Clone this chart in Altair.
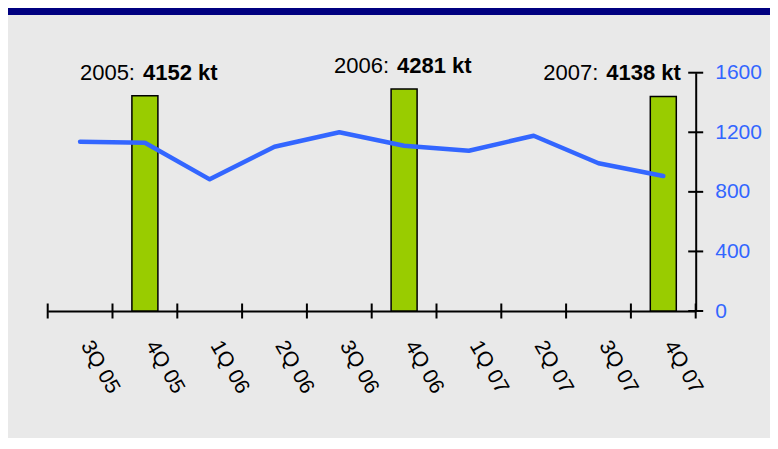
import altair as alt
import pandas as pd

# ---------------- data ----------------
quarters = ["3Q 05", "4Q 05", "1Q 06", "2Q 06", "3Q 06", "4Q 06", "1Q 07", "2Q 07", "3Q 07", "4Q 07"]
line_values = [1137, 1130, 884, 1103, 1200, 1110, 1076, 1177, 992, 906]
bar_quarters = ["4Q 05", "4Q 06", "4Q 07"]
bar_values = [1445, 1490, 1441]
annual_years = ["2005:", "2006:", "2007:"]
annual_totals = ["4152 kt", "4281 kt", "4138 kt"]
y_ticks = [0, 400, 800, 1200, 1600]

# ---------------- layout (not data) ----------------
label_shift = [-0.153, -0.233, -1.003]   # annotation anchor shift, in band units
PLOT_W, PLOT_H = 648, 238.3
PAD = {"left": 39.7, "top": 64.7, "right": 74.3, "bottom": 127}
TOTAL_W = PAD["left"] + PLOT_W + PAD["right"]
FONT = "Liberation Sans"
BLUE = "#3366ff"
GREEN = "#99cc00"
NAVY = "#000080"
BG = "#e9e9e9"

# ---------------- tables ----------------
line_df = pd.DataFrame({"pos": [i + 0.5 for i in range(len(quarters))], "value": line_values})
bar_pos = [quarters.index(q) + 0.5 for q in bar_quarters]
bar_df = pd.DataFrame({"pos": bar_pos, "value": bar_values})
ann_df = pd.DataFrame({
    "pos": [p + s for p, s in zip(bar_pos, label_shift)],
    "value": bar_values,
    "year": annual_years,
    "total": annual_totals,
})
xtick_df = pd.DataFrame({"pos": list(range(len(quarters) + 1)), "value": [0] * (len(quarters) + 1)})
ytick_df = pd.DataFrame({"pos": [len(quarters)] * len(y_ticks), "value": y_ticks})

label_expr = "[" + ",".join("'" + q + "'" for q in quarters) + "][floor(datum.value)]"

x_scale = alt.Scale(domain=[0, len(quarters)], nice=False, zero=False, padding=0)
y_scale = alt.Scale(domain=[0, 1600], nice=False, padding=0)

x_axis = alt.Axis(
    values=[i + 0.5 for i in range(len(quarters))],
    labelExpr=label_expr,
    labelAngle=60,
    labelAlign="left",
    labelBaseline="middle",
    labelPadding=31,
    labelOffset=5,
    labelFont=FONT,
    labelFontSize=21,
    labelColor="black",
    labelFlush=False,
    labelOverlap=False,
    ticks=False,
    tickSize=0,
    grid=False,
    domainColor="black",
    domainWidth=2,
    title=None,
)
y_axis = alt.Axis(
    orient="right",
    values=y_ticks,
    format="d",
    labelPadding=19,
    labelFont=FONT,
    labelFontSize=21,
    labelColor=BLUE,
    labelFlush=False,
    labelOverlap=False,
    ticks=False,
    tickSize=0,
    grid=False,
    domainColor="black",
    domainWidth=2,
    title=None,
)

X = alt.X("pos:Q", scale=x_scale, axis=x_axis)
Y = alt.Y("value:Q", scale=y_scale, axis=y_axis)

bars = alt.Chart(bar_df).mark_bar(size=26, color=GREEN, stroke="black", strokeWidth=1.5).encode(x=X, y=Y)
line = alt.Chart(line_df).mark_line(color=BLUE, strokeWidth=4.5, strokeCap="round", strokeJoin="round").encode(x=X, y=Y)
xticks = alt.Chart(xtick_df).mark_tick(orient="vertical", size=15, thickness=2, color="black", opacity=1).encode(x=X, y=Y)
yticks = alt.Chart(ytick_df).mark_tick(orient="horizontal", size=15, thickness=2, color="black", opacity=1).encode(x=X, y=Y)

ann_year = alt.Chart(ann_df).mark_text(
    align="right", baseline="alphabetic", dy=-16, font=FONT, fontSize=22, color="black"
).encode(x=X, y=Y, text="year:N")
ann_total = alt.Chart(ann_df).mark_text(
    align="left", baseline="alphabetic", dx=8, dy=-16, font=FONT, fontSize=22, fontWeight="bold", color="black"
).encode(x=X, y=Y, text="total:N")

band = alt.Chart(pd.DataFrame({"k": [0]})).mark_rect(color=NAVY).encode(
    x=alt.value(-PAD["left"]),
    x2=alt.value(TOTAL_W - PAD["left"]),
    y=alt.value(-PAD["top"]),
    y2=alt.value(-PAD["top"] + 7),
)

chart = alt.layer(bars, line, xticks, yticks, ann_year, ann_total, band).properties(
    width=PLOT_W,
    height=PLOT_H,
    padding=PAD,
    autosize=alt.AutoSizeParams(type="none"),
    background=BG,
).configure_view(strokeWidth=0)

chart.save("out.html", embed_options={"renderer": "svg", "actions": False})
